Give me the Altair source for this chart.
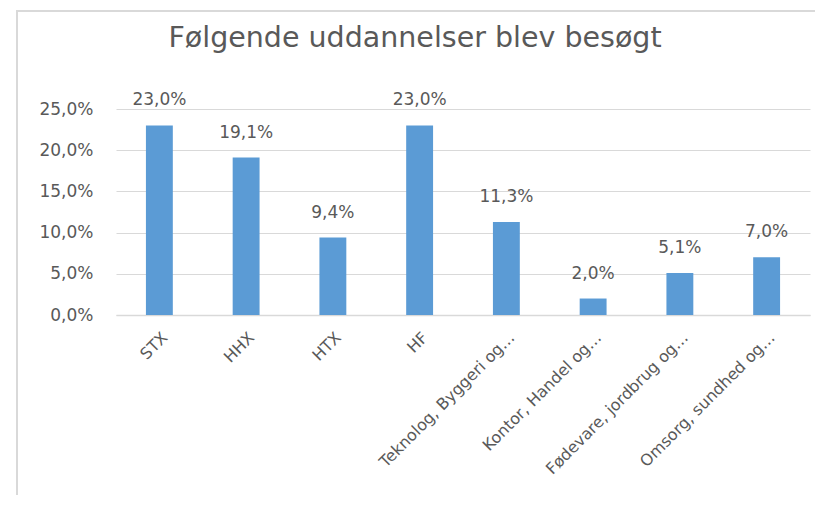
import altair as alt
import pandas as pd

categories = ["STX", "HHX", "HTX", "HF", "Teknolog, Byggeri og…", "Kontor, Handel og…",
              "Fødevare, jordbrug og…", "Omsorg, sundhed og…"]
values = [23.0, 19.1, 9.4, 23.0, 11.3, 2.0, 5.1, 7.0]
y_ticks = [0, 0.05, 0.10, 0.15, 0.20, 0.25]
title_text = "Følgende uddannelser blev besøgt"

df = pd.DataFrame({"cat": categories, "val": [v / 100 for v in values]})
df["label"] = [f"{v:.1f}%".replace(".", ",") for v in values]

FONT = "DejaVu Sans"
GREY = "#595959"

x = alt.X("cat:N", sort=categories, title=None,
          scale=alt.Scale(paddingInner=0.69, paddingOuter=0.345),
          axis=alt.Axis(labelAngle=-45, labelFontSize=16, labelColor=GREY, labelFont=FONT,
                        ticks=False, domainColor="#d9d9d9", domainWidth=1.5,
                        labelPadding=14, labelLimit=300))
y = alt.Y("val:Q", title=None, scale=alt.Scale(domain=[0, 0.25]),
          axis=alt.Axis(values=y_ticks, labelExpr="replace(format(datum.value, '.1%'), '.', ',')",
                        labelFontSize=17, labelColor=GREY, labelFont=FONT, ticks=False,
                        domain=False, gridColor="#d9d9d9", gridWidth=1, labelPadding=23))

base = alt.Chart(df)
bars = base.mark_bar(color="#5B9BD5").encode(x=x, y=y)
texts = base.mark_text(dy=-25, fontSize=17, font=FONT, color=GREY).encode(
    x=x, y=y, text="label:N")

border = alt.Chart(pd.DataFrame({"a": [0]})).mark_rect(
    fillOpacity=0, stroke="#d9d9d9", strokeWidth=2).encode(
    x=alt.value(-99), x2=alt.value(760), y=alt.value(-98), y2=alt.value(600))

chart = alt.layer(border, bars, texts).properties(
    width=694, height=206,
    autosize=alt.AutoSizeParams(type="none"),
    padding={"left": 108, "top": 101, "right": 5, "bottom": 180},
    title=alt.TitleParams(title_text, fontSize=28.5, font=FONT, color=GREY, fontWeight="normal",
                          anchor="middle", dx=-48, offset=-65, baseline="alphabetic"),
).configure_view(stroke=None)

chart.save("out.html", embed_options={"renderer": "svg", "actions": False})
